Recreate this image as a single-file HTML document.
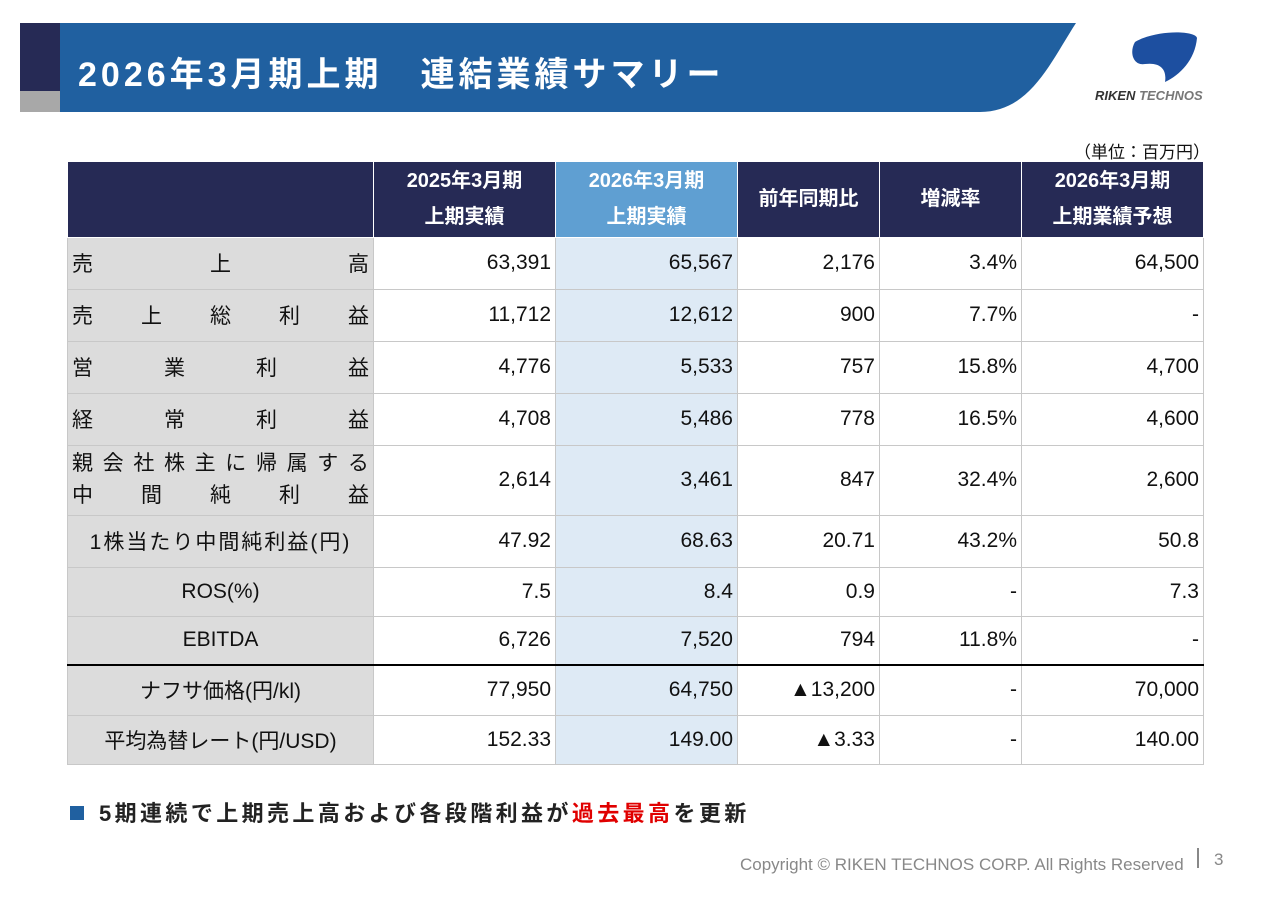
<!DOCTYPE html>
<html><head><meta charset="utf-8"><style>
body{margin:0;width:1280px;height:904px;background:#fff;position:relative;overflow:hidden;font-family:"Liberation Sans","Noto Sans CJK JP",sans-serif;}
.abs{position:absolute;}
table{position:absolute;left:67px;top:162px;border-collapse:collapse;font-size:21px;color:#111;}
td,th{border:1px solid #c8c8c8;padding:0 4px;box-sizing:border-box;}
th{background:#262a55;color:#fff;font-weight:bold;font-size:20px;line-height:36px;border-color:#fff;border-top:none;}
th.hl{background:#5f9fd2;}
td{text-align:right;}
td.lab{background:#dcdcdc;text-align:center;}
td.hl{background:#deeaf5;}
.dist{display:flex;justify-content:space-between;padding:0 0;}
tr.sep td{border-top:2px solid #000;}
</style></head><body>
<div class="abs" style="left:20px;top:23px;width:1060px;height:89px;">
<svg width="1060" height="89" style="position:absolute;left:0;top:0">
<path d="M40 0 H1056 C1030 40 1010 89 960 89 H40 Z" fill="#2060a0"/>
<rect x="0" y="0" width="40" height="68" fill="#262a55"/>
<rect x="0" y="68" width="40" height="21" fill="#a8a8a8"/>
</svg>
<div class="abs" style="left:58px;top:24px;color:#fff;font-size:34px;font-weight:bold;white-space:nowrap;letter-spacing:4px;">2026年3月期上期　連結業績サマリー</div>
</div>
<div class="abs" style="left:1095px;top:30px;width:140px;height:80px;">
<svg width="140" height="60"><path d="M40 12 C60 0 100 0 102 8 C100 30 85 45 70 52 C72 40 66 32 50 34 C38 36 34 22 40 12Z" fill="#1d4fa0"/></svg>
<div style="position:absolute;left:0;top:58px;font-size:13px;font-weight:bold;font-style:italic;color:#333;">RIKEN <span style="color:#777">TECHNOS</span></div>
</div>
<div class="abs" style="left:1074px;top:138px;font-size:17px;color:#111;">（単位：百万円）</div>
<table>
<tr style="height:75px">
<th style="width:306px"></th><th style="width:182px">2025年3月期<br>上期実績</th><th class="hl" style="width:182px">2026年3月期<br>上期実績</th><th style="width:142px">前年同期比</th><th style="width:142px">増減率</th><th style="width:182px">2026年3月期<br>上期業績予想</th></tr>
<tr style="height:52px"><td class="lab"><div class="dist"><span>売</span><span>上</span><span>高</span></div></td><td>63,391</td><td class="hl">65,567</td><td>2,176</td><td>3.4%</td><td>64,500</td></tr>
<tr style="height:52px"><td class="lab"><div class="dist"><span>売</span><span>上</span><span>総</span><span>利</span><span>益</span></div></td><td>11,712</td><td class="hl">12,612</td><td>900</td><td>7.7%</td><td>-</td></tr>
<tr style="height:52px"><td class="lab"><div class="dist"><span>営</span><span>業</span><span>利</span><span>益</span></div></td><td>4,776</td><td class="hl">5,533</td><td>757</td><td>15.8%</td><td>4,700</td></tr>
<tr style="height:52px"><td class="lab"><div class="dist"><span>経</span><span>常</span><span>利</span><span>益</span></div></td><td>4,708</td><td class="hl">5,486</td><td>778</td><td>16.5%</td><td>4,600</td></tr>
<tr style="height:70px"><td class="lab" style="line-height:32px"><div class="dist"><span>親</span><span>会</span><span>社</span><span>株</span><span>主</span><span>に</span><span>帰</span><span>属</span><span>す</span><span>る</span></div><div class="dist"><span>中</span><span>間</span><span>純</span><span>利</span><span>益</span></div></td><td>2,614</td><td class="hl">3,461</td><td>847</td><td>32.4%</td><td>2,600</td></tr>
<tr style="height:52px"><td class="lab" style="letter-spacing:2px">1株当たり中間純利益(円)</td><td>47.92</td><td class="hl">68.63</td><td>20.71</td><td>43.2%</td><td>50.8</td></tr>
<tr style="height:49px"><td class="lab">ROS(%)</td><td>7.5</td><td class="hl">8.4</td><td>0.9</td><td>-</td><td>7.3</td></tr>
<tr style="height:49px"><td class="lab">EBITDA</td><td>6,726</td><td class="hl">7,520</td><td>794</td><td>11.8%</td><td>-</td></tr>
<tr class="sep" style="height:50px"><td class="lab">ナフサ価格(円/kl)</td><td>77,950</td><td class="hl">64,750</td><td>▲13,200</td><td>-</td><td>70,000</td></tr>
<tr style="height:49px"><td class="lab">平均為替レート(円/USD)</td><td>152.33</td><td class="hl">149.00</td><td>▲3.33</td><td>-</td><td>140.00</td></tr>
</table>
<div class="abs" style="left:70px;top:796px;font-size:22px;font-weight:bold;color:#222;white-space:nowrap;letter-spacing:3.4px;"><span style="display:inline-block;width:14px;height:14px;background:#2060a0;margin-right:15px;vertical-align:1px"></span>5期連続で上期売上高および各段階利益が<span style="color:#e00000">過去最高</span>を更新</div>
<div class="abs" style="left:740px;top:855px;font-size:17px;color:#888;white-space:nowrap;">Copyright © RIKEN TECHNOS CORP. All Rights Reserved</div>
<div class="abs" style="left:1197px;top:848px;width:2px;height:20px;background:#888;"></div>
<div class="abs" style="left:1214px;top:850px;font-size:17px;color:#888;">3</div>
</body></html>
